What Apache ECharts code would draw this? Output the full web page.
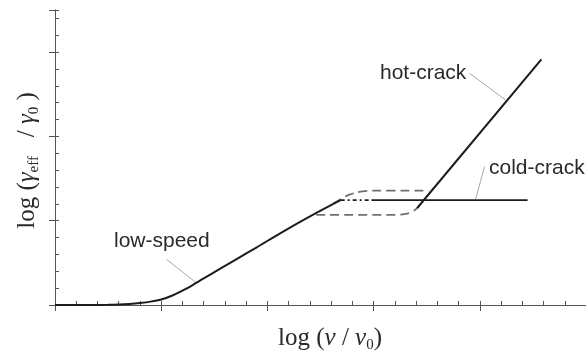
<!DOCTYPE html>
<html><head><meta charset="utf-8">
<script src="https://cdn.jsdelivr.net/npm/echarts@6/dist/echarts.min.js"></script>
<style>html,body{margin:0;padding:0;background:#fff}#c{width:586px;height:351px}</style>
</head><body><div id="c"></div>
<script>
// main low-speed curve
const lowSpeedX = [0, 0.3, 0.5, 0.6, 0.7, 0.8, 0.9, 1.0, 1.1, 1.2, 1.3, 1.4, 1.54, 1.71, 1.9, 2.12, 2.35, 2.59, 2.69];
const lowSpeedY = [0, 0, 0.002, 0.006, 0.013, 0.024, 0.04, 0.065, 0.11, 0.17, 0.24, 0.315, 0.42, 0.545, 0.685, 0.85, 1.015, 1.18, 1.245];
// upper grey dashed branch
const upperX = [2.62, 2.70, 2.78, 2.88, 2.99, 3.52];
const upperY = [1.20, 1.265, 1.312, 1.345, 1.356, 1.356];
// lower grey dashed branch
const lowerX = [2.46, 3.22, 3.30, 3.36, 3.41, 3.45];
const lowerY = [1.07, 1.07, 1.08, 1.105, 1.15, 1.21];
// cold-crack (dash-dot part, then solid)
const coldDotX = [2.69, 2.98];
const coldDotY = [1.245, 1.245];
const coldX = [2.98, 4.45];
const coldY = [1.245, 1.245];
// hot-crack
const hotX = [3.41, 3.45, 4.58];
const hotY = [1.15, 1.21, 2.915];
// leader lines
const leadLowX = [1.05, 1.317];
const leadLowY = [0.542, 0.276];
const leadHotX = [3.904, 4.243];
const leadHotY = [2.749, 2.432];
const leadColdX = [4.045, 3.96];
const leadColdY = [1.641, 1.254];

const zip = (xs, ys) => xs.map((x, i) => [x, ys[i]]);
const chart = echarts.init(document.getElementById('c'), null, {renderer: 'canvas'});
const axisColor = '#555';
const serif = "'Liberation Serif', 'DejaVu Serif', serif";
const sans = "'Liberation Sans', Arial, sans-serif";
const txtColor = '#2a2a2a';

function xAx(extra) {
  return Object.assign({type: 'value', min: 0, max: 5, interval: 1, position: 'bottom',
    axisLabel: {show: false}, splitLine: {show: false},
    axisLine: {lineStyle: {color: axisColor, width: 1}}}, extra);
}
function yAx(extra) {
  return Object.assign({type: 'value', min: 0, max: 3.5, interval: 1, position: 'left',
    axisLabel: {show: false}, splitLine: {show: false},
    axisLine: {lineStyle: {color: axisColor, width: 1}}}, extra);
}
function line(xs, ys, color, width, type, smooth, z) {
  return {type: 'line', data: zip(xs, ys), showSymbol: false, symbol: 'none', smooth: smooth,
    lineStyle: {color: color, width: width, type: type, cap: 'butt'}, z: z, silent: true};
}
const grey = '#6f6f6f';
const black = '#1c1c1c';
const leadC = '#a8a8a8';

const subStyle = {fontFamily: serif, fontSize: 15, verticalAlign: 'bottom', lineHeight: 14, fill: txtColor};
const option = {
  animation: false,
  backgroundColor: '#fff',
  grid: {left: 55, right: 0, top: 10, bottom: 46},
  xAxis: [
    xAx({axisTick: {inside: false, length: 6, lineStyle: {color: axisColor}}}),
    xAx({axisTick: {inside: true, length: 4, lineStyle: {color: axisColor}},
      minorTick: {show: true, splitNumber: 5, length: 4, lineStyle: {color: axisColor}}})
  ],
  yAxis: [
    yAx({axisTick: {inside: false, length: 6, lineStyle: {color: axisColor}}}),
    yAx({axisTick: {inside: true, length: 4, lineStyle: {color: axisColor}},
      minorTick: {show: true, splitNumber: 5, length: 4, lineStyle: {color: axisColor}}})
  ],
  series: [
    line(lowerX, lowerY, grey, 1.8, [9, 5], 0.4, 2),
    line(upperX, upperY, grey, 1.8, [9, 5], 0.4, 2),
    line(lowSpeedX, lowSpeedY, black, 2, 'solid', 0.3, 3),
    line(coldDotX, coldDotY, black, 1.8, [4, 3, 2, 3], false, 3),
    line(coldX, coldY, black, 1.8, 'solid', false, 3),
    line(hotX, hotY, black, 2, 'solid', false, 3),
    line(leadLowX, leadLowY, leadC, 1, 'solid', false, 1),
    line(leadHotX, leadHotY, leadC, 1, 'solid', false, 1),
    line(leadColdX, leadColdY, leadC, 1, 'solid', false, 1)
  ],
  graphic: [
    {type: 'text', x: 380, y: 73.7, style: {text: 'hot-crack', fontFamily: sans, fontSize: 21, fill: txtColor, verticalAlign: 'middle', align: 'left'}},
    {type: 'text', x: 489, y: 168.7, style: {text: 'cold-crack', fontFamily: sans, fontSize: 21, fill: txtColor, verticalAlign: 'middle', align: 'left'}},
    {type: 'text', x: 114, y: 241.7, style: {text: 'low-speed', fontFamily: sans, fontSize: 21, fill: txtColor, verticalAlign: 'middle', align: 'left'}},
    {type: 'text', x: 330, y: 338, style: {
      text: '{n|log (}{i|ν}{n| / }{i|ν}{s|0}{n|)}',
      align: 'center', verticalAlign: 'middle', fill: txtColor,
      rich: {
        n: {fontFamily: serif, fontSize: 25, lineHeight: 30, fill: txtColor},
        i: {fontFamily: serif, fontSize: 25, fontStyle: 'italic', lineHeight: 30, fill: txtColor},
        s: subStyle
      }}},
    {type: 'text', x: 27, y: 160.5, rotation: Math.PI / 2, style: {
      text: '{n|log (}{i|γ}{s|eff}{n|   / }{i|γ}{s|0}{n| )}',
      align: 'center', verticalAlign: 'middle', fill: txtColor,
      rich: {
        n: {fontFamily: serif, fontSize: 25, lineHeight: 30, fill: txtColor},
        i: {fontFamily: serif, fontSize: 25, fontStyle: 'italic', lineHeight: 30, fill: txtColor},
        s: subStyle
      }}}
  ]
};
chart.setOption(option);
</script>
</body></html>
